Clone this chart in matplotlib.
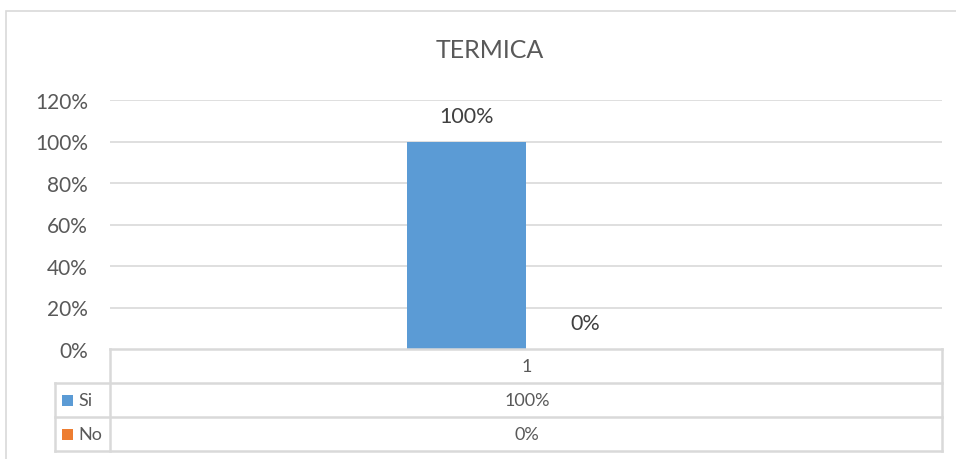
import matplotlib
matplotlib.use("Agg")
import matplotlib.pyplot as plt
from matplotlib.lines import Line2D
from matplotlib.patches import Rectangle
import numpy as np

# data
title = "TERMICA"
categories = ["1"]
series_names = ["Si", "No"]
series_values = [1.00, 0.00]
series_colors = ["#5B9BD5", "#ED7D31"]
y_ticks = [0, 0.2, 0.4, 0.6, 0.8, 1.0, 1.2]

W, H = 956, 460
grid_c = "#D9D9D9"
text_c = "#595959"
plt.rcParams['font.family'] = ['Lato', 'DejaVu Sans']

fig = plt.figure(figsize=(W / 100, H / 100), dpi=100)

def fx(px):
    return px / W

def fy(py):
    return 1 - py / H

# plot area
left, right, top, bottom = 110, 942, 101, 350
ax = fig.add_axes([fx(left), fy(bottom), fx(right) - fx(left), fy(top) - fy(bottom)])

bw = 119 / (right - left)
x = np.arange(len(categories))
for i, (name, val, col) in enumerate(zip(series_names, series_values, series_colors)):
    offs = (i - (len(series_names) - 1) / 2) * bw
    bars = ax.bar(x + offs, [val], width=bw, color=col, zorder=3)
    for b in bars:
        ax.annotate(f"{b.get_height():.0%}", (b.get_x() + b.get_width() / 2, b.get_height()),
                    xytext=(0, 18.5), textcoords="offset points", ha="center", va="center",
                    fontsize=15.5, color="#404040")

ax.set_xlim(-0.5, 0.5)
ax.set_ylim(0, 1.2)
ax.set_yticks(y_ticks)
ax.set_yticklabels([f"{t:.0%}" for t in y_ticks])
ax.tick_params(axis="y", length=0, pad=16, labelsize=15, labelcolor=text_c)
ax.set_xticks([])
for t in y_ticks[1:]:
    ax.axhline(t, color=grid_c, lw=1.2, zorder=1)
for s in ax.spines.values():
    s.set_visible(False)

fig.text(fx(490), fy(50), title, ha="center", va="center", fontsize=18, color=text_c)

# data table
row_y = [350, 384, 418, 452]
col_x = [55, 110, 942]
lc = dict(color=grid_c, lw=1.8)

def hline(y, x0, x1):
    fig.add_artist(Line2D([fx(x0), fx(x1)], [fy(y), fy(y)], **lc))

def vline(xp, y0, y1):
    fig.add_artist(Line2D([fx(xp), fx(xp)], [fy(y0), fy(y1)], **lc))

hline(row_y[0], col_x[1], col_x[2])
for y in row_y[1:]:
    hline(y, col_x[0], col_x[2])
vline(col_x[0], row_y[1], row_y[3])
vline(col_x[1], row_y[0], row_y[3])
vline(col_x[2], row_y[0], row_y[3])

cx = (col_x[1] + col_x[2]) / 2 + 1
fig.text(fx(cx), fy((row_y[0] + row_y[1]) / 2), categories[0], ha="center", va="center",
         fontsize=13, color=text_c)
for i, (name, val, col) in enumerate(zip(series_names, series_values, series_colors)):
    yc = (row_y[i + 1] + row_y[i + 2]) / 2
    fig.add_artist(Rectangle((fx(62), fy(yc + 5.5)), fx(11), fy(0) - fy(11),
                             facecolor=col, edgecolor="none"))
    fig.text(fx(78), fy(yc), name, ha="left", va="center", fontsize=13, color=text_c)
    fig.text(fx(cx), fy(yc), f"{val:.0%}", ha="center", va="center", fontsize=13, color=text_c)

# outer chart border
fig.add_artist(Rectangle((fx(5.5), fy(470)), fx(960), fy(11.5) - fy(470),
                         facecolor="none", edgecolor=grid_c, lw=1.2))

fig.savefig("out.png", dpi=100)
